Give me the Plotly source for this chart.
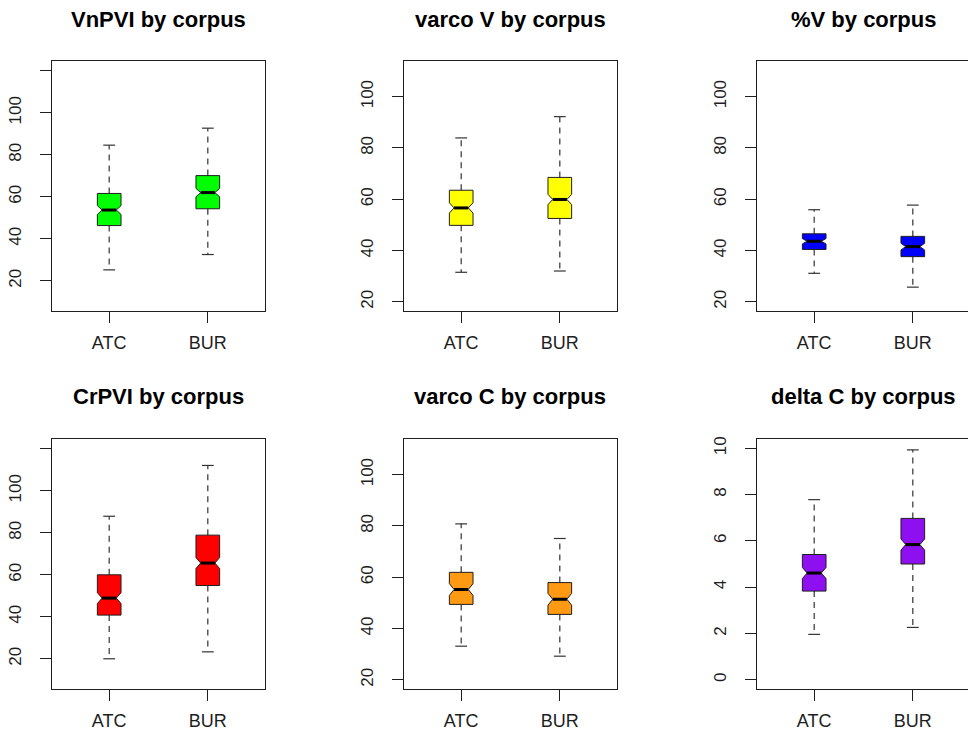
import plotly.graph_objects as go

W, H = 968, 733

corpora = ["ATC", "BUR"]
positions = [1, 2]

titles = ["VnPVI by corpus", "varco V by corpus", "%V by corpus",
          "CrPVI by corpus", "varco C by corpus", "delta C by corpus"]
fills = ["#00FF00", "#FFFF00", "#0000FF", "#FF0000", "#FF9A12", "#8E10F0"]

# Summary statistics per corpus (ATC, BUR): whisker ends, quartiles,
# median and notch half-span
vnpvi = dict(lo=[25.2, 32.5], q1=[46.3, 54.3], med=[53.7, 62.0],
             q3=[61.6, 70.1], hi=[84.6, 92.7], notch=[2.1, 2.0])
varco_v = dict(lo=[31.5, 32.0], q1=[49.8, 52.5], med=[56.6, 59.9],
               q3=[63.5, 68.5], hi=[83.9, 92.2], notch=[2.0, 2.0])
pct_v = dict(lo=[31.1, 25.7], q1=[40.4, 37.6], med=[43.6, 41.5],
             q3=[46.5, 45.5], hi=[55.9, 57.7], notch=[1.05, 1.3])
crpvi = dict(lo=[20.0, 23.3], q1=[40.8, 54.9], med=[48.9, 65.6],
             q3=[60.0, 78.9], hi=[87.9, 112.1], notch=[2.6, 2.6])
varco_c = dict(lo=[33.1, 29.2], q1=[49.4, 45.5], med=[55.2, 51.4],
               q3=[61.9, 57.9], hi=[80.8, 75.1], notch=[2.3, 2.3])
delta_c = dict(lo=[1.96, 2.26], q1=[3.83, 5.0], med=[4.61, 5.84],
               q3=[5.41, 6.97], hi=[7.78, 9.93], notch=[0.24, 0.24])

metrics = [vnpvi, varco_v, pct_v, crpvi, varco_c, delta_c]

# y-axis ticks for each panel
ticks_pvi = [20, 40, 60, 80, 100, 120]
ticklabels_pvi = ["20", "40", "60", "80", "100", ""]
ticks_pct = [20, 40, 60, 80, 100]
ticks_delta = [0, 2, 4, 6, 8, 10]

y_ticks = [ticks_pvi, ticks_pct, ticks_pct, ticks_pvi, ticks_pct, ticks_delta]
y_ticklabels = [ticklabels_pvi, [str(t) for t in ticks_pct], [str(t) for t in ticks_pct],
                ticklabels_pvi, [str(t) for t in ticks_pct], [str(t) for t in ticks_delta]]
y_ranges = [[5.6, 124.7], [16.4, 113.9], [16.4, 113.9],
            [5.6, 124.7], [16.4, 113.9], [-0.4, 10.4]]

# panel geometry in pixels
col_left = [52, 404, 757]
col_right = [265, 617, 970]
row_top = [61, 439]
row_bottom = [311, 689]

BOX_W = 0.24          # full box width in x units
HALF = BOX_W / 2
NOTCH_FRAC = 0.6      # share of the box half-width kept at the median
X_MIN, X_MAX = 0.42, 2.58
px_per_unit = (col_right[0] - col_left[0]) / (X_MAX - X_MIN)

INK = "#1e1e1e"
FONT = "Liberation Sans, Arial, sans-serif"


def notched_outline(p, q1, med, q3, nh):
    """Closed outline of a notched box centred on p."""
    xs = [p - HALF, p + HALF, p + HALF, p + HALF * NOTCH_FRAC, p + HALF,
          p + HALF, p - HALF, p - HALF, p - HALF * NOTCH_FRAC, p - HALF, p - HALF]
    ys = [q1, q1, med - nh, med, med + nh, q3, q3, med + nh, med, med - nh, q1]
    return xs, ys


fig = go.Figure()
layout = dict(
    width=W, height=H, margin=dict(l=0, r=0, t=0, b=0, autoexpand=False),
    paper_bgcolor="white", plot_bgcolor="white", showlegend=False,
    font=dict(family=FONT, color=INK),
)
annotations = []

for i, (m, fill, title) in enumerate(zip(metrics, fills, titles)):
    r, c = divmod(i, 3)
    n = i + 1
    xa = "x" if n == 1 else f"x{n}"
    ya = "y" if n == 1 else f"y{n}"

    # dashed whiskers
    wx, wy = [], []
    for p, q1, q3, lo, hi in zip(positions, m["q1"], m["q3"], m["lo"], m["hi"]):
        wx += [p, p, None, p, p, None]
        wy += [q3, hi, None, q1, lo, None]
    fig.add_trace(go.Scatter(
        x=wx, y=wy, mode="lines", hoverinfo="skip", xaxis=xa, yaxis=ya,
        line=dict(color="#333333", width=1.2, dash="6px,5px"),
    ))

    # staples at whisker ends
    sx, sy = [], []
    for p, lo, hi in zip(positions, m["lo"], m["hi"]):
        sx += [p - HALF / 2, p + HALF / 2, None, p - HALF / 2, p + HALF / 2, None]
        sy += [hi, hi, None, lo, lo, None]
    fig.add_trace(go.Scatter(
        x=sx, y=sy, mode="lines", hoverinfo="skip", xaxis=xa, yaxis=ya,
        line=dict(color="#333333", width=1.2),
    ))

    # notched boxes
    for p, q1, med, q3, nh in zip(positions, m["q1"], m["med"], m["q3"], m["notch"]):
        bx, by = notched_outline(p, q1, med, q3, nh)
        fig.add_trace(go.Scatter(
            x=bx, y=by, mode="lines", fill="toself", fillcolor=fill,
            line=dict(color=INK, width=1), hoverinfo="skip",
            xaxis=xa, yaxis=ya,
        ))

    # thick median bars
    mx, my = [], []
    for p, med in zip(positions, m["med"]):
        mx += [p - HALF * NOTCH_FRAC, p + HALF * NOTCH_FRAC, None]
        my += [med, med, None]
    fig.add_trace(go.Scatter(
        x=mx, y=my, mode="lines", hoverinfo="skip", xaxis=xa, yaxis=ya,
        line=dict(color="black", width=3),
    ))

    left = col_left[c]
    right = min(col_right[c], W)
    x_hi = X_MIN + (right - left) / px_per_unit
    last_col = c == 2

    layout["xaxis" if n == 1 else f"xaxis{n}"] = dict(
        domain=[left / W, right / W], anchor=ya, range=[X_MIN, x_hi],
        tickvals=positions, ticktext=corpora, ticks="outside", ticklen=11,
        tickwidth=1, tickcolor=INK, showline=True, mirror=True,
        linecolor=INK, linewidth=1, showgrid=False, zeroline=False,
        tickfont=dict(size=18, family=FONT, color=INK), ticklabelstandoff=4,
        automargin=False, fixedrange=True,
    )
    layout["yaxis" if n == 1 else f"yaxis{n}"] = dict(
        domain=[1 - row_bottom[r] / H, 1 - row_top[r] / H], anchor=xa,
        range=y_ranges[i], tickvals=y_ticks[i], ticktext=y_ticklabels[i],
        tickangle=-90, ticks="outside", ticklen=11, tickwidth=1,
        tickcolor=INK, showline=True, mirror=not last_col,
        linecolor=INK, linewidth=1, showgrid=False, zeroline=False,
        tickfont=dict(size=17, family=FONT, color=INK), ticklabelstandoff=12,
        automargin=False, fixedrange=True,
    )

    annotations.append(dict(
        text=f"<b>{title}</b>", xref="paper", yref="paper",
        x=(col_left[c] + col_right[c]) / 2 / W,
        y=1 - (20 if r == 0 else 396) / H,
        xanchor="center", yanchor="middle", showarrow=False,
        font=dict(size=22, family=FONT, color="black"),
    ))

layout["annotations"] = annotations
fig.update_layout(**layout)
fig.write_html("out.html")
